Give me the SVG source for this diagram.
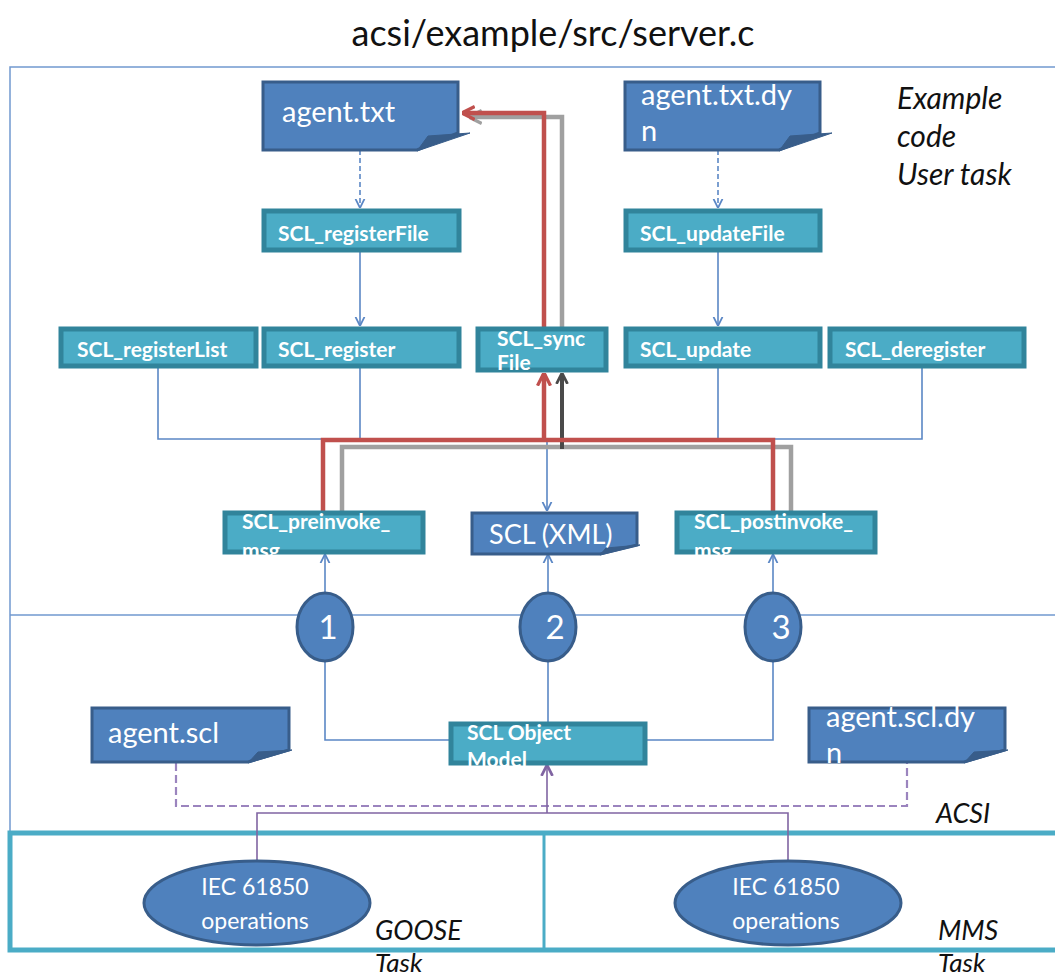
<svg xmlns="http://www.w3.org/2000/svg" width="1055" height="980" viewBox="0 0 1055 980">
<style>
.bg{fill:#ffffff}
.frame{fill:none;stroke:#7199CF;stroke-width:1.5}
.doc{fill:#4F81BD;stroke:#385D8A;stroke-width:3}
.fold{fill:#385D8A;stroke:#385D8A;stroke-width:1}
.box{fill:#4BACC6;stroke:#31849B;stroke-width:5}
.circ{fill:#4F81BD;stroke:#385D8A;stroke-width:3}
.task{fill:none;stroke:#4BACC6;stroke-width:5}
.tb{font-family:Lato,"Open Sans",sans-serif;font-weight:bold;font-size:21px;fill:#ffffff}
.td{font-family:Lato,"Open Sans",sans-serif;font-size:29px;fill:#ffffff}
.tn{font-family:Lato,"Open Sans",sans-serif;font-size:33px;fill:#ffffff;text-anchor:middle}
.te{font-family:Lato,"Open Sans",sans-serif;font-size:23px;fill:#ffffff;text-anchor:middle}
.ti{font-family:Lato,"Open Sans",sans-serif;font-style:italic;font-size:30px;fill:#111111}
.title{font-family:Lato,"Open Sans",sans-serif;font-size:36px;fill:#111111;text-anchor:middle}
.bl{fill:none;stroke:#5B87C5;stroke-width:1.6}
.bld{fill:none;stroke:#5B87C5;stroke-width:1.6;stroke-dasharray:5,3}
.red{fill:none;stroke:#C0504D;stroke-width:4.5}
.gray{fill:none;stroke:#A0A0A0;stroke-width:4.5}
.dgray{fill:none;stroke:#4A4A4A;stroke-width:4}
.pu{fill:none;stroke:#8064A2;stroke-width:1.6}
.pud{fill:none;stroke:#9B84BE;stroke-width:2.2;stroke-dasharray:8,4}
</style>
<defs>
<marker id="ab" viewBox="0 0 10 10" refX="9" refY="5" markerUnits="userSpaceOnUse" markerWidth="9" markerHeight="16" orient="auto"><path d="M0,0 L10,5 L0,10" fill="none" stroke="#5B87C5" stroke-width="2"/></marker>
<marker id="ar" viewBox="0 0 10 10" refX="9" refY="5" markerUnits="userSpaceOnUse" markerWidth="13" markerHeight="20" orient="auto"><path d="M0,0 L10,5 L0,10" fill="none" stroke="#C0504D" stroke-width="2.5"/></marker>
<marker id="ag" viewBox="0 0 10 10" refX="9" refY="5" markerUnits="userSpaceOnUse" markerWidth="13" markerHeight="20" orient="auto"><path d="M0,0 L10,5 L0,10" fill="none" stroke="#A0A0A0" stroke-width="2.5"/></marker>
<marker id="adg" viewBox="0 0 10 10" refX="9" refY="5" markerUnits="userSpaceOnUse" markerWidth="11" markerHeight="18" orient="auto"><path d="M0,0 L10,5 L0,10" fill="none" stroke="#4A4A4A" stroke-width="2.5"/></marker>
<marker id="ap" viewBox="0 0 10 10" refX="9" refY="5" markerUnits="userSpaceOnUse" markerWidth="11" markerHeight="18" orient="auto"><path d="M0,0 L10,5 L0,10" fill="none" stroke="#8064A2" stroke-width="2.5"/></marker>
</defs>
<rect class="bg" x="0" y="0" width="1055" height="980"/>
<text class="title" x="553" y="46">acsi/example/src/server.c</text>

<g id="frames">
<path class="frame" d="M1055,67 H10 V833"/>
<path class="frame" d="M10,615 H1055"/>
<rect class="task" x="10" y="833" width="1050" height="117"/>
<line class="task" x1="544" y1="833" x2="544" y2="950" style="stroke-width:3"/>
</g>

<g id="connectors">
<path class="bld" d="M360,150 V207" marker-end="url(#ab)"/>
<path class="bl" d="M360,252 V325" marker-end="url(#ab)"/>
<path class="bld" d="M718,150 V207" marker-end="url(#ab)"/>
<path class="bl" d="M718,252 V325" marker-end="url(#ab)"/>
<path class="bl" d="M158,368 V439 H922 V368"/>
<path class="bl" d="M360,368 V439"/>
<path class="bl" d="M718,368 V439"/>
<path class="bl" d="M547,439 V510" marker-end="url(#ab)"/>
<path class="bl" d="M325,592 V555" marker-end="url(#ab)"/>
<path class="bl" d="M548,592 V555" marker-end="url(#ab)"/>
<path class="bl" d="M773,592 V555" marker-end="url(#ab)"/>
<path class="bl" d="M325,662 V740 H449"/>
<path class="bl" d="M548,662 V722"/>
<path class="bl" d="M773,662 V740 H646"/>
<path class="gray" d="M342,512 V447 H791 V512"/>
<path class="gray" d="M562,327 V117 H470" marker-end="url(#ag)"/>
<path class="dgray" d="M562,449 V374" marker-end="url(#adg)"/>
<path class="red" d="M323,512 V440 H773 V512"/>
<path class="red" d="M544,440 V374" marker-end="url(#ar)"/>
<path class="red" d="M544,327 V113 H463" marker-end="url(#ar)"/>
<path class="pud" d="M176,763 V806 H907 V763"/>
<path class="pu" d="M257,862 V813 H788 V862"/>
<path class="pu" d="M547,813 V766" marker-end="url(#ap)"/>
</g>

<g id="agent_txt">
<path class="doc" d="M263,82 H458 V133 L417,150 H263 Z"/>
<path class="fold" d="M417,151 L428,136 L470,133 Z"/>
<text class="td" x="282" y="122">agent.txt</text>
</g>
<g id="agent_txt_dyn">
<path class="doc" d="M625,82 H820 V133 L779,150 H625 Z"/>
<path class="fold" d="M779,151 L790,136 L832,133 Z"/>
<text class="td" x="641" y="105">agent.txt.dy</text>
<text class="td" x="641" y="141">n</text>
</g>
<g id="SCL_registerFile">
<rect class="box" x="264" y="211" width="195" height="39"/>
<text class="tb" x="278" y="241">SCL_registerFile</text>
</g>
<g id="SCL_updateFile">
<rect class="box" x="626" y="211" width="194" height="39"/>
<text class="tb" x="640" y="241">SCL_updateFile</text>
</g>
<g id="SCL_registerList">
<rect class="box" x="61" y="329" width="195" height="37"/>
<text class="tb" x="77" y="357">SCL_registerList</text>
</g>
<g id="SCL_register">
<rect class="box" x="264" y="329" width="195" height="37"/>
<text class="tb" x="278" y="357">SCL_register</text>
</g>
<g id="SCL_syncFile">
<rect class="box" x="478" y="329" width="128" height="41"/>
<text class="tb" x="497" y="346">SCL_sync</text>
<text class="tb" x="497" y="370">File</text>
</g>
<g id="SCL_update">
<rect class="box" x="626" y="329" width="194" height="37"/>
<text class="tb" x="640" y="357">SCL_update</text>
</g>
<g id="SCL_deregister">
<rect class="box" x="830" y="329" width="194" height="37"/>
<text class="tb" x="845" y="357">SCL_deregister</text>
</g>
<g id="SCL_preinvoke_msg">
<rect class="box" x="225" y="513" width="198" height="39"/>
<text class="tb" x="242" y="529">SCL_preinvoke_</text>
<text class="tb" x="242" y="558">msg</text>
</g>
<g id="SCL_XML">
<path class="doc" d="M472,513 H637 V545 L600,554 H472 Z"/>
<path class="fold" d="M600,555 L606,548 L640,545 Z"/>
<text class="td" x="489" y="544" style="font-size:27px">SCL (XML)</text>
</g>
<g id="SCL_postinvoke_msg">
<rect class="box" x="677" y="513" width="198" height="39"/>
<text class="tb" x="694" y="529">SCL_postinvoke_</text>
<text class="tb" x="694" y="558">msg</text>
</g>
<g id="label_example">
<text class="ti" x="897" y="109">Example</text>
<text class="ti" x="897" y="147">code</text>
<text class="ti" x="897" y="185">User task</text>
</g>
<g id="c1"><ellipse class="circ" cx="325" cy="627" rx="28" ry="34"/><text class="tn" x="328" y="639">1</text></g>
<g id="c2"><ellipse class="circ" cx="548" cy="627" rx="28" ry="34"/><text class="tn" x="555" y="639">2</text></g>
<g id="c3"><ellipse class="circ" cx="773" cy="627" rx="28" ry="34"/><text class="tn" x="781" y="639">3</text></g>
<g id="agent_scl">
<path class="doc" d="M92,708 H289 V750 L248,762 H92 Z"/>
<path class="fold" d="M248,763 L258,752 L292,750 Z"/>
<text class="td" x="108" y="743">agent.scl</text>
</g>
<g id="agent_scl_dyn">
<path class="doc" d="M809,708 H1005 V750 L964,762 H809 Z"/>
<path class="fold" d="M964,763 L974,752 L1008,750 Z"/>
<text class="td" x="826" y="727">agent.scl.dy</text>
<text class="td" x="826" y="763">n</text>
</g>
<g id="SCL_Object_Model">
<rect class="box" x="451" y="724" width="194" height="39"/>
<text class="tb" x="467" y="740">SCL Object</text>
<text class="tb" x="467" y="767">Model</text>
</g>
<text class="ti" x="936" y="823" style="font-size:27px">ACSI</text>
<g id="iec_goose">
<ellipse class="circ" cx="257" cy="903" rx="113" ry="42"/>
<text class="te" x="255" y="895">IEC 61850</text>
<text class="te" x="255" y="929">operations</text>
</g>
<g id="iec_mms">
<ellipse class="circ" cx="788" cy="903" rx="113" ry="42"/>
<text class="te" x="786" y="895">IEC 61850</text>
<text class="te" x="786" y="929">operations</text>
</g>
<text class="ti" x="375" y="940" style="font-size:27px">GOOSE</text>
<text class="ti" x="375" y="972" style="font-size:26px">Task</text>
<text class="ti" x="938" y="940" style="font-size:27px">MMS</text>
<text class="ti" x="938" y="972" style="font-size:26px">Task</text>
</svg>
